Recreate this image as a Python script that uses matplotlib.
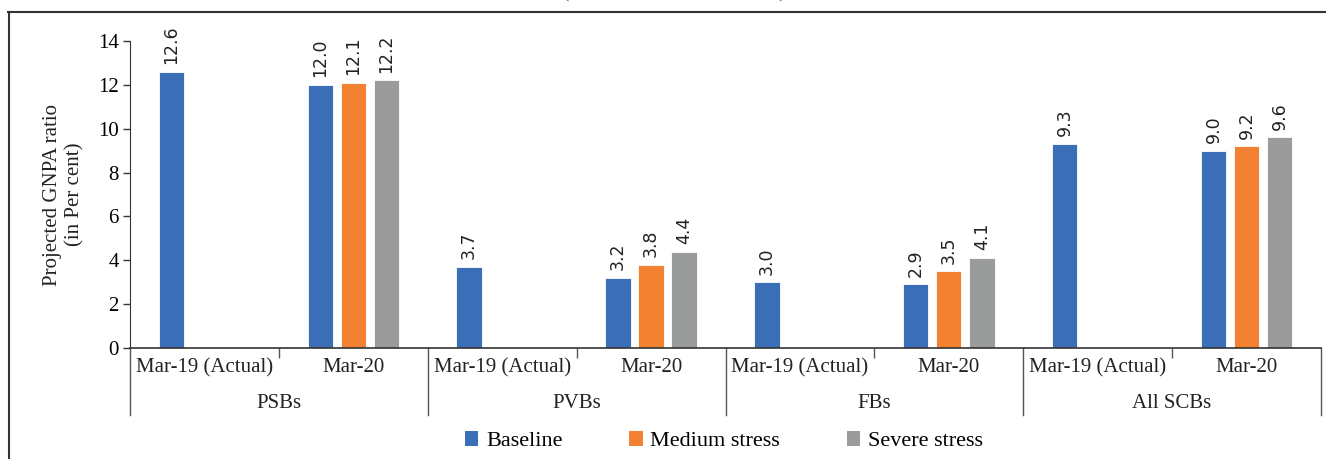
import numpy as np
import matplotlib
matplotlib.use("Agg")
import matplotlib.pyplot as plt
from matplotlib.lines import Line2D
from matplotlib.patches import Patch

# data
groups = ["PSBs", "PVBs", "FBs", "All SCBs"]
periods = ["Mar-19 (Actual)", "Mar-20"]
series = ["Baseline", "Medium stress", "Severe stress"]
colors = ["#3A6EB7", "#F28131", "#9A9C9C"]

baseline = [12.6, 12.0, 3.7, 3.2, 3.0, 2.9, 9.3, 9.0]
medium = [np.nan, 12.1, np.nan, 3.8, np.nan, 3.5, np.nan, 9.2]
severe = [np.nan, 12.2, np.nan, 4.4, np.nan, 4.1, np.nan, 9.6]

serif = ["Liberation Serif", "DejaVu Serif"]
plt.rcParams["font.family"] = serif

fig = plt.figure(figsize=(13.26, 4.59), dpi=100)
ax = fig.add_axes([130 / 1326, 111 / 459, (1321 - 130) / 1326, 307 / 459])

n = len(baseline)
centers = np.arange(n) + 0.5
step = 0.222
width = 0.17

for k, (vals, col) in enumerate(zip([baseline, medium, severe], colors)):
    xs = centers + (k - 1) * step
    ax.bar(xs, vals, width=width, color=col, edgecolor="white", linewidth=0.6)
    for x, v in zip(xs, vals):
        if np.isnan(v):
            continue
        ax.text(x, v + 0.35, f"{v:.1f}", rotation=90, ha="center", va="bottom",
                fontsize=12.5, family="DejaVu Sans", color="#222222")

ax.set_xlim(0, n)
ax.set_ylim(0, 14)
ax.set_yticks(range(0, 15, 2))
ax.tick_params(axis="y", labelsize=15, length=5, width=1, color="#333333", pad=3)
ax.spines["top"].set_visible(False)
ax.spines["right"].set_visible(False)
ax.spines["left"].set_color("#333333")
ax.spines["bottom"].set_color("#333333")
ax.spines["bottom"].set_linewidth(1.2)

# category axis with two levels
ax.set_xticks(range(0, n + 1, 2))
ax.set_xticklabels([])
ax.tick_params(axis="x", length=0)
ax.set_xticks(np.arange(1, n, 2), minor=True)
ax.tick_params(axis="x", which="minor", length=7, width=1, color="#555555")

trans = ax.get_xaxis_transform()
for i in range(n):
    ax.text(centers[i], -0.065, periods[i % 2], transform=trans, ha="center",
            va="center", fontsize=15, color="#222222")
for g, name in enumerate(groups):
    ax.text(2 * g + 1, -0.18, name, transform=trans, ha="center", va="center",
            fontsize=15, color="#222222")
for b in range(0, n + 1, 2):
    ax.add_line(Line2D([b, b], [0, -0.218], transform=trans, color="#555555",
                       linewidth=1, clip_on=False))

ax.set_ylabel("Projected GNPA ratio\n(in Per cent)", fontsize=15, color="#222222",
              labelpad=10)

handles = [Patch(facecolor=c, edgecolor="none") for c in colors]
fig.legend(handles, series, loc="center", bbox_to_anchor=(724 / 1326, 1 - 441 / 459),
           ncol=3, frameon=False, fontsize=16, handlelength=0.6, handleheight=0.7,
           handletextpad=0.35, columnspacing=3.0)

# frame lines and cut-off title from the source page
fig.add_artist(Line2D([8.5 / 1326, 8.5 / 1326], [0, 1 - 12 / 459],
                      transform=fig.transFigure, color="#333333", linewidth=1.5))
fig.add_artist(Line2D([8 / 1326, 1], [1 - 12 / 459, 1 - 12 / 459],
                      transform=fig.transFigure, color="#333333", linewidth=1.5))
fig.text(674 / 1326, 1 - 2 / 459, "(under various scenarios)", ha="center",
         va="bottom", fontsize=16, color="#666666")

fig.savefig("out.png", dpi=100)
